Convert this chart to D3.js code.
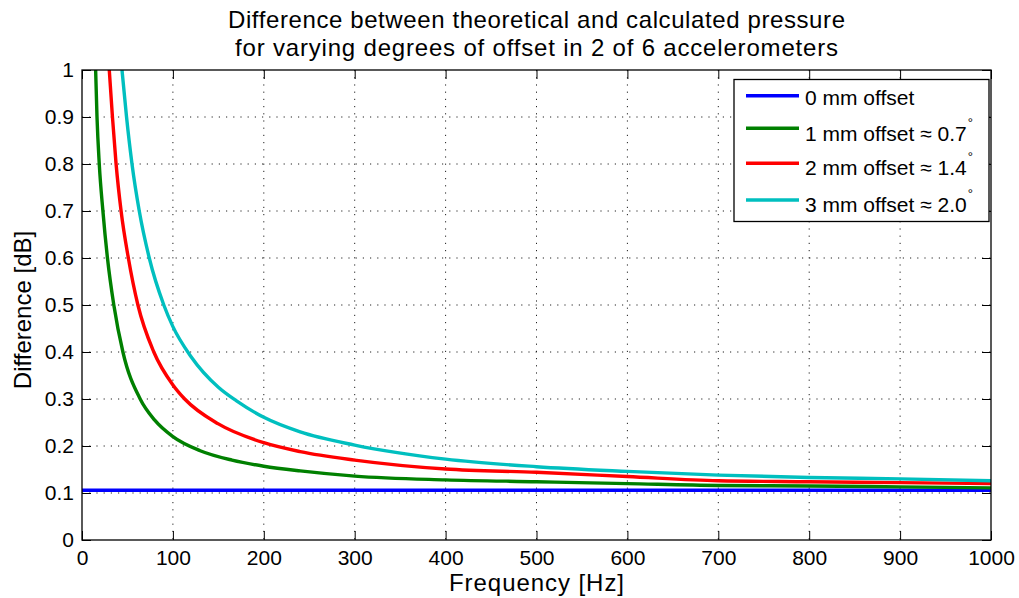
<!DOCTYPE html>
<html>
<head>
<meta charset="utf-8">
<script src="https://cdn.jsdelivr.net/npm/d3@7"></script>
<style>
  body { margin: 0; background: #fff; }
  text { font-family: "Liberation Sans", Arial, sans-serif; fill: #000; }
</style>
</head>
<body>
<script>
let width = 1019;
let height = 598;

// values
let xTicks = [0, 100, 200, 300, 400, 500, 600, 700, 800, 900, 1000];
let yTicks = [0, 0.1, 0.2, 0.3, 0.4, 0.5, 0.6, 0.7, 0.8, 0.9, 1];

let freq0 = [0, 1000];
let diff0 = [0.106, 0.106];

let freq1 = [15, 16.5, 19, 23, 28, 35, 45, 64, 80, 100, 130, 165, 200, 240, 300, 400, 500, 600, 700, 800, 900, 1000];
let diff1 = [1, 0.9, 0.8, 0.7, 0.6, 0.5, 0.4, 0.3, 0.255, 0.22, 0.19, 0.17, 0.157, 0.147, 0.136, 0.128, 0.124, 0.12, 0.116, 0.115, 0.113, 0.111];

let freq2 = [30, 33.5, 37.5, 43, 51, 61.5, 79, 100, 113, 150, 200, 240, 300, 400, 500, 600, 700, 800, 900, 1000];
let diff2 = [1, 0.9, 0.8, 0.7, 0.6, 0.5, 0.4, 0.33, 0.3, 0.247, 0.207, 0.188, 0.17, 0.151, 0.144, 0.135, 0.126, 0.124, 0.122, 0.12];

let freq3 = [44, 49, 55, 63, 74, 90, 100, 120, 150, 170, 200, 240, 300, 400, 500, 600, 700, 800, 900, 1000];
let diff3 = [1, 0.9, 0.8, 0.7, 0.6, 0.5, 0.454, 0.39, 0.325, 0.296, 0.261, 0.23, 0.202, 0.172, 0.156, 0.146, 0.138, 0.133, 0.13, 0.126];

let seriesNames = ['0 mm offset', '1 mm offset \u2248 0.7', '2 mm offset \u2248 1.4', '3 mm offset \u2248 2.0'];
let seriesColors = ['#0000ff', '#008000', '#ff0000', '#00bfbf'];

let series = [
  {freq: freq0, diff: diff0},
  {freq: freq1, diff: diff1},
  {freq: freq2, diff: diff2},
  {freq: freq3, diff: diff3}
];

let pLeft = 82, pRight = 991, pTop = 70, pBottom = 540;

let svg = d3.select('body').append('svg')
            .attr('width', width)
            .attr('height', height);

let x = d3.scaleLinear().domain([0, 1000]).range([pLeft, pRight]);
let y = d3.scaleLinear().domain([0, 1]).range([pBottom, pTop]);

// grid
svg.append('g').selectAll('line').data(xTicks.slice(1, -1))
   .enter().append('line')
   .attr('x1', d => x(d)).attr('x2', d => x(d))
   .attr('y1', pTop).attr('y2', pBottom)
   .attr('stroke', '#222').attr('stroke-width', 1)
   .attr('stroke-dasharray', '1.2,6');

svg.append('g').selectAll('line').data(yTicks.slice(1, -1))
   .enter().append('line')
   .attr('x1', pLeft).attr('x2', pRight)
   .attr('y1', d => y(d)).attr('y2', d => y(d))
   .attr('stroke', '#222').attr('stroke-width', 1)
   .attr('stroke-dasharray', '1.2,6');

// curves
svg.append('clipPath').attr('id', 'plotclip')
   .append('rect').attr('x', pLeft).attr('y', pTop)
   .attr('width', pRight - pLeft).attr('height', pBottom - pTop);

let line = d3.line()
             .x(d => x(d[0]))
             .y(d => y(d[1]))
             .curve(d3.curveMonotoneX);

svg.append('g').attr('clip-path', 'url(#plotclip)')
   .selectAll('path').data(series)
   .enter().append('path')
   .attr('d', d => line(d.freq.map((f, i) => [f, d.diff[i]])))
   .attr('fill', 'none')
   .attr('stroke', (d, i) => seriesColors[i])
   .attr('stroke-width', 3.4);

// axes: ticks inward on all four sides
let tickLen = 9;
svg.append('g').attr('transform', `translate(0,${pBottom})`)
   .call(d3.axisBottom(x).tickValues(xTicks).tickSizeInner(-tickLen).tickSizeOuter(0).tickPadding(10).tickFormat(d3.format('')))
   .call(g => g.select('.domain').remove())
   .selectAll('text').attr('font-size', 21).attr('font-family', '"Liberation Sans", Arial, sans-serif');

svg.append('g').attr('transform', `translate(0,${pTop})`)
   .call(d3.axisTop(x).tickValues(xTicks).tickSizeInner(-tickLen).tickSizeOuter(0).tickFormat(''))
   .call(g => g.select('.domain').remove());

svg.append('g').attr('transform', `translate(${pLeft},0)`)
   .call(d3.axisLeft(y).tickValues(yTicks).tickSizeInner(-tickLen).tickSizeOuter(0).tickPadding(8).tickFormat(d3.format('')))
   .call(g => g.select('.domain').remove())
   .selectAll('text').attr('font-size', 21).attr('font-family', '"Liberation Sans", Arial, sans-serif');

svg.append('g').attr('transform', `translate(${pRight},0)`)
   .call(d3.axisRight(y).tickValues(yTicks).tickSizeInner(-tickLen).tickSizeOuter(0).tickFormat(''))
   .call(g => g.select('.domain').remove());

svg.selectAll('.tick line').attr('stroke', '#000');

svg.append('rect')
   .attr('x', pLeft).attr('y', pTop)
   .attr('width', pRight - pLeft).attr('height', pBottom - pTop)
   .attr('fill', 'none').attr('stroke', '#000').attr('stroke-width', 1.3);

// titles
svg.append('text').attr('x', (pLeft + pRight) / 2).attr('y', 28)
   .attr('text-anchor', 'middle').attr('font-size', 24)
   .attr('textLength', 617).attr('lengthAdjust', 'spacing')
   .text('Difference between theoretical and calculated pressure');
svg.append('text').attr('x', (pLeft + pRight) / 2).attr('y', 56)
   .attr('text-anchor', 'middle').attr('font-size', 24)
   .attr('textLength', 603).attr('lengthAdjust', 'spacing')
   .text('for varying degrees of offset in 2 of 6 accelerometers');

svg.append('text').attr('x', (pLeft + pRight) / 2).attr('y', 591)
   .attr('text-anchor', 'middle').attr('font-size', 24)
   .attr('textLength', 175).attr('lengthAdjust', 'spacing')
   .text('Frequency [Hz]');

svg.append('text')
   .attr('transform', `translate(31,${(pTop + pBottom) / 2 + 5}) rotate(-90)`)
   .attr('text-anchor', 'middle').attr('font-size', 24)
   .text('Difference [dB]');

// legend
let legend = svg.append('g');
legend.append('rect')
      .attr('x', 734).attr('y', 79.5)
      .attr('width', 255).attr('height', 142)
      .attr('fill', '#fff').attr('stroke', '#000').attr('stroke-width', 1.3);

let rowY = [95.7, 128.3, 163.3, 200];
let rowBase = [105, 140.7, 175, 211.5];
let rows = legend.selectAll('g.row').data(seriesNames)
                 .enter().append('g').attr('class', 'row');
rows.append('line')
    .attr('x1', 746).attr('x2', 799)
    .attr('y1', (d, i) => rowY[i]).attr('y2', (d, i) => rowY[i])
    .attr('stroke', (d, i) => seriesColors[i]).attr('stroke-width', 3.4);
let labels = rows.append('text')
    .attr('x', 805).attr('y', (d, i) => rowBase[i])
    .attr('font-size', 21);
labels.append('tspan').text(d => d);
labels.filter((d, i) => i > 0).append('tspan')
      .attr('dx', 1).attr('dy', -14).attr('font-size', 13).text('\u00b0');
</script>
</body>
</html>
